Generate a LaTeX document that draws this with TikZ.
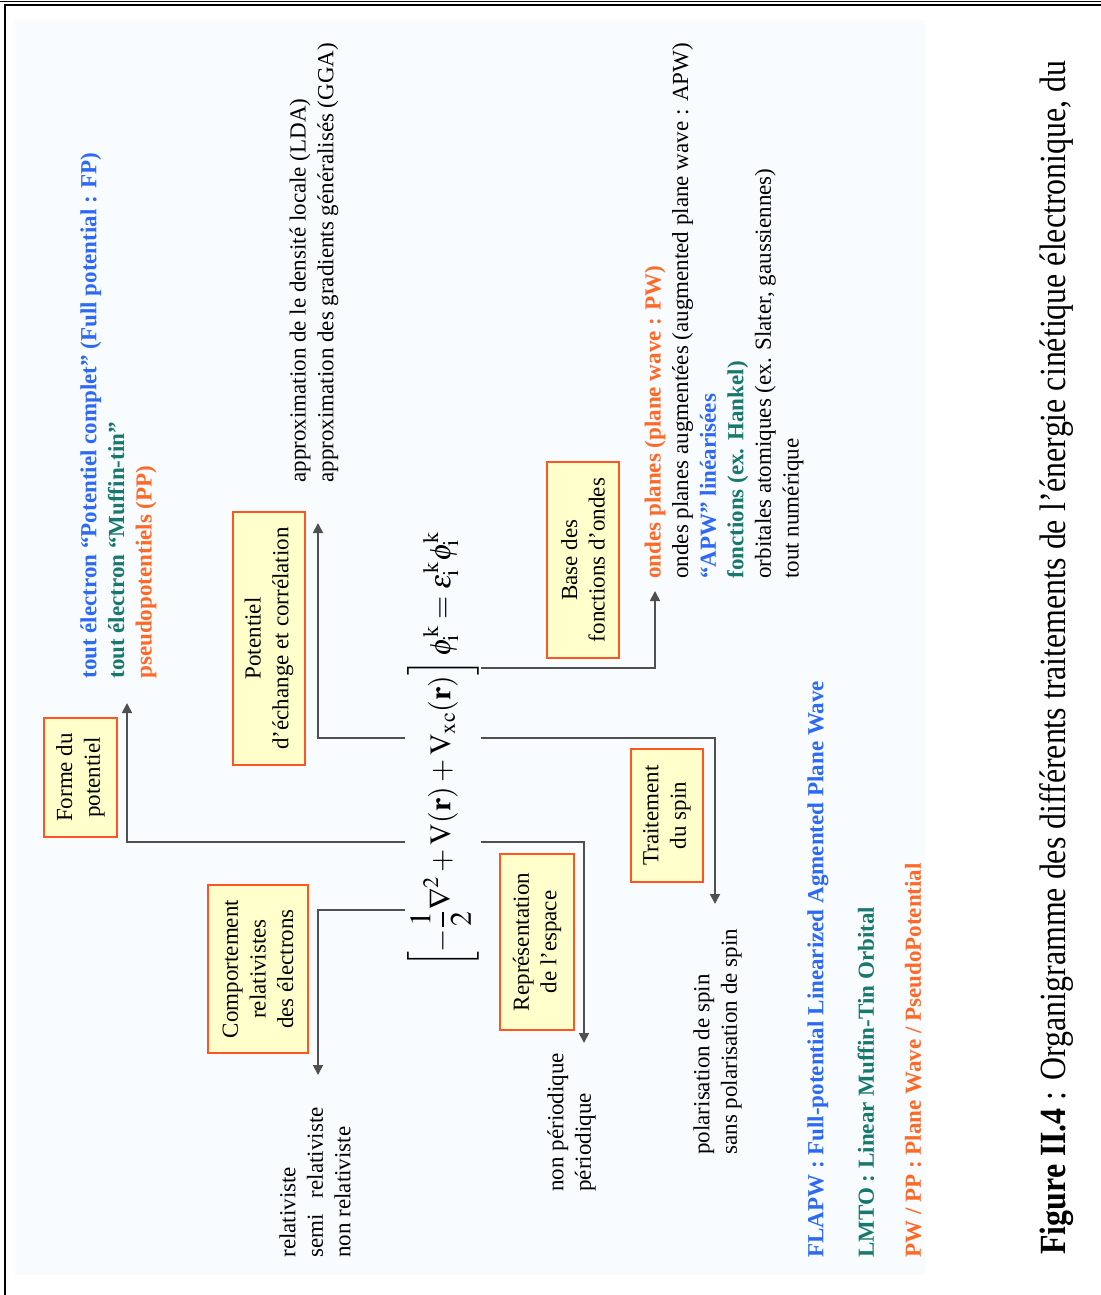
\documentclass[tikz,border=0pt]{standalone}
\usepackage{mathptmx}
\usepackage{fontspec}
\setmainfont{Liberation Serif}
\usetikzlibrary{positioning,arrows.meta,calc}

\definecolor{fpblue}{RGB}{45,105,245}
\definecolor{mtteal}{RGB}{25,120,110}
\definecolor{ppor}{RGB}{255,105,40}
\definecolor{boxline}{RGB}{255,85,35}
\definecolor{boxfill}{RGB}{255,255,204}
\definecolor{bgblue}{RGB}{248,252,255}
\definecolor{linegray}{RGB}{80,80,80}
\newcommand{\diagfont}{\fontsize{13.1}{15.7}\selectfont}

\begin{document}
\begin{tikzpicture}[x=0.02cm, y=-0.02cm,
    every node/.style={rotate=90, font=\diagfont},
    cat/.style={draw=boxline, fill=boxfill, line width=0.9pt, align=center, inner sep=1pt},
    opts/.style={align=left, anchor=west, inner sep=0pt},
    legend/.style={anchor=west, inner sep=0pt, font=\diagfont\bfseries},
    link/.style={line width=1pt, draw=linegray},
    arr/.style={link, -{Triangle[length=2mm, width=2mm]}}
]
\useasboundingbox (0,0) rectangle (1101,1295);
\fill[bgblue] (15,20) rectangle (925,1275);
\draw[line width=1pt] (5,1295) -- (5,5) -- (1101,5);
\draw[line width=0.6pt] (0,1.5) -- (1101,1.5);

\node[inner sep=1pt, anchor=west] (eq) at (443,970)
    {\fontsize{17}{20}\selectfont$\displaystyle\left[-\frac{1}{2}\nabla^{2}+\mathrm{V}(\mathbf{r})+\mathrm{V}_{\mathrm{xc}}(\mathbf{r})\right]\phi_{\mathrm{i}}^{\mathrm{k}}=\varepsilon_{\mathrm{i}}^{\mathrm{k}}\phi_{\mathrm{i}}^{\mathrm{k}}$};

\node[cat, minimum width=2.38cm, minimum height=1.46cm] (forme) at (80.5,777.5) {Forme du\\potentiel};
\node[cat, minimum width=3.36cm, minimum height=2cm] (compo) at (258,969) {Comportement\\relativistes\\des électrons};
\node[cat, minimum width=5.06cm, minimum height=1.44cm] (potxc) at (269,638.5) {Potentiel\\d’échange et corrélation};
\node[cat, minimum width=3.52cm, minimum height=1.48cm] (repres) at (537,942) {Représentation\\de l’espace};
\node[cat, minimum width=2.66cm, minimum height=1.44cm] (spin) at (667,815.5) {Traitement\\du spin};
\node[cat, minimum width=3.92cm, minimum height=1.44cm] (base) at (583,560) {Base des\\fonctions d’ondes};

\node[opts, font=\diagfont\bfseries] (fpopts) at (118.5,679)
    {\textcolor{fpblue}{tout électron “Potentiel complet” (Full potential : FP)}\\
     \textcolor{mtteal}{tout électron “Muffin-tin”}\\
     \textcolor{ppor}{pseudopotentiels (PP)}};
\node[opts] (xcopts) at (314,483)
    {approximation de le densité locale (LDA)\\approximation des gradients généralisés (GGA)};
\node[opts] (baseopts) at (724,579)
    {\textcolor{ppor}{\bfseries ondes planes (plane wave : PW)}\\
     ondes planes augmentées (augmented plane wave : APW)\\
     \textcolor{fpblue}{\bfseries “APW” linéarisées}\\
     \textcolor{mtteal}{\bfseries fonctions (ex. Hankel)}\\
     orbitales atomiques (ex. Slater, gaussiennes)\\
     tout numérique};
\node[opts] (relopts) at (315,1258) {relativiste\\semi\hspace{0.7em}relativiste\\non relativiste};
\node[opts] (repopts) at (571.5,1192) {non périodique\\périodique};
\node[opts] (spinopts) at (717.5,1155) {polarisation de spin\\sans polarisation de spin};

\coordinate (relTip) at (318,1075);
\coordinate (formeTip) at (127,703);
\coordinate (xcTip) at (318,523);
\coordinate (repTip) at (584,1043);
\coordinate (spinTip) at (715,904);
\coordinate (baseTip) at (655,591);

\draw[arr] (eq.north |- 0,910) -| (relTip);
\draw[arr] (eq.north |- 0,842) -| (formeTip);
\draw[arr] (eq.north |- 0,738) -| (xcTip);
\draw[arr] (eq.south |- 0,842) -| (repTip);
\draw[arr] (eq.south |- 0,738) -| (spinTip);
\draw[arr] (eq.south |- 0,668) -| (baseTip);

\node[legend, text=fpblue] (flapw) at (818,1258) {FLAPW : Full-potential Linearized Agmented Plane Wave};
\node[legend, text=mtteal] (lmto) at (866,1258) {LMTO : Linear Muffin-Tin Orbital};
\node[legend, text=ppor] (pwpp) at (913,1258) {PW / PP : Plane Wave / PseudoPotential};

\node[anchor=west, inner sep=0pt] (caption) at (1057,1255)
    {\scalebox{0.865}[1]{\fontsize{21}{25}\selectfont\textbf{Figure II.4} : Organigramme des différents traitements de l'énergie cinétique électronique, du}};
\end{tikzpicture}
\end{document}
